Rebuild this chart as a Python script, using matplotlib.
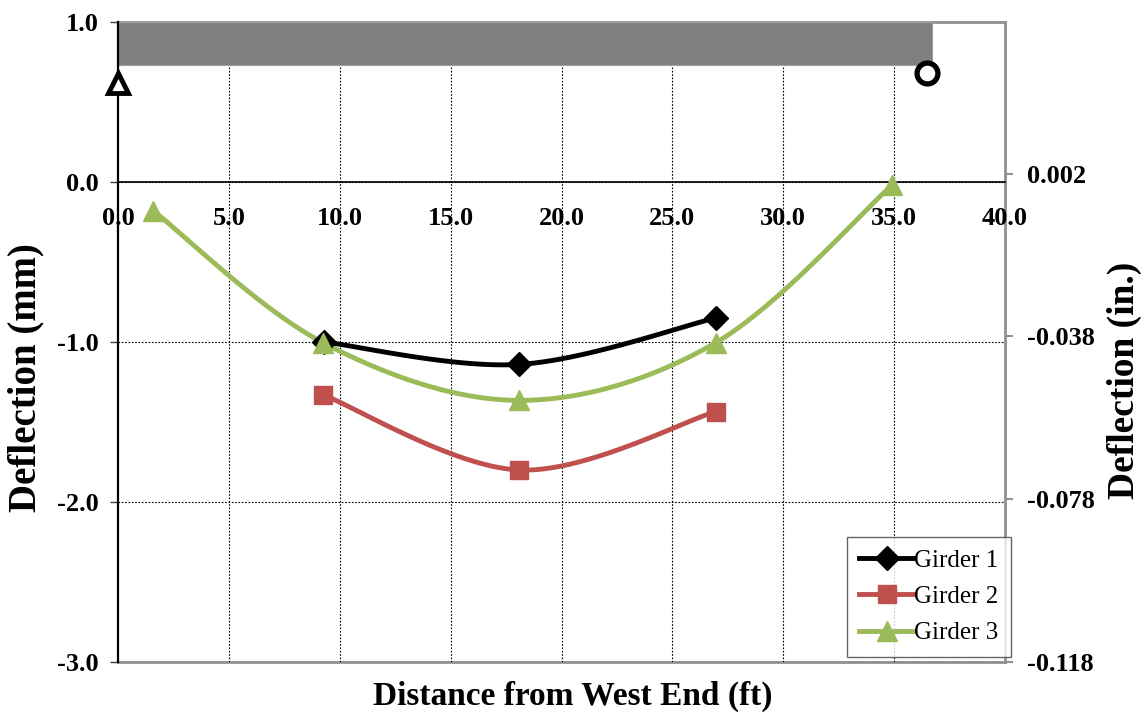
import numpy as np
import matplotlib
matplotlib.use("Agg")
import matplotlib.pyplot as plt
from matplotlib.lines import Line2D

plt.rcParams['font.family'] = ['Liberation Serif', 'DejaVu Serif']

# ---- data ----
g1_x = [9.3, 18.1, 26.95]
g1_y = [-1.00, -1.14, -0.85]
g2_x = [9.25, 18.1, 26.95]
g2_y = [-1.33, -1.80, -1.435]
g3_x = [1.6, 9.25, 18.1, 26.95, 34.9]
g3_y = [-0.18, -1.005, -1.365, -1.005, -0.02]
labels = ['Girder 1', 'Girder 2', 'Girder 3']
colors = ['#000000', '#C0504D', '#9BBB59']
markers = ['D', 's', '^']
beam_length = 36.7
beam_top = 1.0
beam_bottom = 0.73
pin_x, pin_y = 0.0, 0.62
roller_x, roller_y = 36.5, 0.68
x_ticks = [0, 5, 10, 15, 20, 25, 30, 35, 40]
y_ticks = [-3, -2, -1, 0, 1]
in_ticks = [-0.118, -0.078, -0.038, 0.002]
MM_TO_IN = 0.03937


def smooth(x, y, n=40):
    x = np.asarray(x, float)
    y = np.asarray(y, float)
    P = np.column_stack([x, y])
    Pe = np.vstack([P[0], P, P[-1]])
    out = []
    t = np.linspace(0, 1, n)[:, None]
    for i in range(len(P) - 1):
        p0, p1, p2, p3 = Pe[i], Pe[i + 1], Pe[i + 2], Pe[i + 3]
        c1 = p1 + (p2 - p0) / 6.0
        c2 = p2 - (p3 - p1) / 6.0
        seg = ((1 - t) ** 3) * p1 + 3 * ((1 - t) ** 2) * t * c1 + 3 * (1 - t) * t ** 2 * c2 + t ** 3 * p2
        out.append(seg if i == 0 else seg[1:])
    s = np.vstack(out)
    return s[:, 0], s[:, 1]


fig = plt.figure(figsize=(11.43, 7.15), dpi=100)
ax = fig.add_axes([118 / 1143, 53 / 715, 887 / 1143, 640 / 715])
ax.set_xlim(0, 40)
ax.set_ylim(-3, 1)

ax.spines['bottom'].set_position(('data', 0))
ax.spines['bottom'].set_color('black')
ax.spines['bottom'].set_linewidth(1.2)
ax.spines['left'].set_color('black')
ax.spines['left'].set_linewidth(1.6)
ax.spines['top'].set_visible(False)
ax.spines['right'].set_visible(False)

# beam
ax.barh((beam_top + beam_bottom) / 2, beam_length, height=beam_top - beam_bottom, left=0,
        color='#808080', edgecolor='#a0a0a0', linewidth=0.8, zorder=2)
ax.plot([pin_x], [pin_y], marker='^', markersize=15, markerfacecolor='white',
        markeredgecolor='black', markeredgewidth=3.5, linestyle='none', zorder=6, clip_on=False)
ax.plot([roller_x], [roller_y], marker='o', markersize=15, markerfacecolor='white',
        markeredgecolor='black', markeredgewidth=3.8, linestyle='none', zorder=6)

series = [(g1_x, g1_y), (g2_x, g2_y), (g3_x, g3_y)]
msizes = [12, 13, 15]
for (xs, ys), lab, c, m, ms in zip(series, labels, colors, markers, msizes):
    sx, sy = smooth(xs, ys)
    ax.plot(sx, sy, color=c, linewidth=3.5, zorder=4, solid_capstyle='round')
    ax.plot(xs, ys, linestyle='none', marker=m, markersize=ms, color=c, zorder=5)

# ticks & grid
ax.set_xticks(x_ticks)
ax.set_yticks(y_ticks)
ax.set_xticklabels([f"{v:.1f}" for v in x_ticks], fontsize=19, fontweight='bold')
ax.set_yticklabels([f"{v:.1f}" for v in y_ticks], fontsize=19, fontweight='bold')
ax.tick_params(axis='x', length=0, pad=18)
ax.tick_params(axis='y', length=6, color='#404040', width=1, direction='out', pad=8)
ax.grid(True, color='black', linestyle=(0, (1.5, 1.5)), linewidth=0.8)
ax.set_axisbelow(True)
ax.get_ygridlines()[-1].set_visible(False)
ax.get_xgridlines()[-1].set_visible(False)
ax.get_xgridlines()[0].set_visible(False)

# right axis in inches
ax2 = ax.twinx()
ax2.set_ylim(-3 * MM_TO_IN, 1 * MM_TO_IN)
ax2.set_yticks(in_ticks)
ax2.set_yticklabels([f"{v:.3f}" for v in in_ticks], fontsize=19, fontweight='bold')
ax2.tick_params(axis='y', length=6, color='#909090', width=1.5, direction='out', pad=10)
for s in ['right', 'top', 'bottom']:
    ax2.spines[s].set_color('#909090')
    ax2.spines[s].set_linewidth(2)
ax2.spines['left'].set_visible(False)
ax2.set_zorder(ax.get_zorder() - 1)
ax.patch.set_visible(False)

fig.text(26 / 1143, 1 - 378 / 715, 'Deflection (mm)', fontsize=28, fontweight='bold',
         rotation=90, ha='center', va='center')
fig.text(1124 / 1143, 1 - 380 / 715, 'Deflection (in.)', fontsize=27, fontweight='bold',
         rotation=90, ha='center', va='center')
fig.text(573 / 1143, 1 - 696 / 715, 'Distance from West End (ft)', fontsize=24,
         fontweight='bold', ha='center', va='center')

handles = [Line2D([0], [0], color=c, marker=m, markersize=ms, linewidth=3.5)
           for c, m, ms in zip(colors, markers, msizes)]
leg = ax.legend(handles, labels, loc='lower right', bbox_to_anchor=(1.007, 0.008),
                borderaxespad=0, fontsize=18, frameon=True, fancybox=False,
                handlelength=2.2, handletextpad=0.0, labelspacing=0.55, borderpad=0.5)
leg.get_frame().set_edgecolor('#404040')
leg.get_frame().set_linewidth(1.0)
leg.set_zorder(10)

fig.savefig('out.png', dpi=100)
